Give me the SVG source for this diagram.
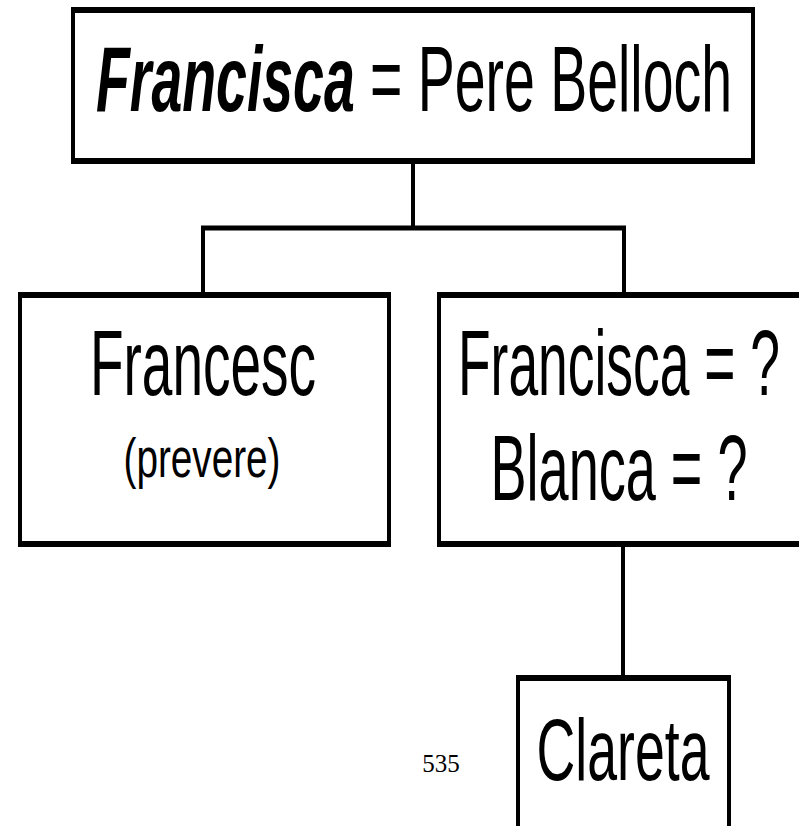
<svg xmlns="http://www.w3.org/2000/svg" width="799" height="826" viewBox="0 0 799 826">
<style>
.box{fill:#fff;stroke:#000;stroke-width:4}
.tb{stroke:#000;stroke-width:6}
.ln{fill:none;stroke:#000;stroke-width:4}
.hl{fill:none;stroke:#000;stroke-width:5}
.t{font-family:"Liberation Sans Narrow","Arial Narrow","Liberation Sans",Arial,sans-serif;fill:#000;text-anchor:middle}
.pg{font-family:"Liberation Serif","Times New Roman",serif;font-size:25px;fill:#000;text-anchor:middle}
</style>
<rect width="799" height="826" fill="#fff"/>
<g id="connectors">
<path class="ln" d="M413 161V228M203 295V228M624 295V228M623 544V678"/>
<path class="hl" d="M201 228H626"/>
</g>
<g id="n-top">
<rect class="box" x="73" y="10" width="680" height="151"/>
<path class="tb" d="M71 10H755M71 161H755"/>
<text class="t" x="414" y="111" font-size="92" textLength="636" lengthAdjust="spacingAndGlyphs"><tspan font-weight="bold" font-style="italic">Francisca</tspan> = Pere Belloch</text>
</g>
<g id="n-francesc">
<rect class="box" x="20" y="295" width="369" height="249"/>
<path class="tb" d="M18 295H391M18 544H391"/>
<text class="t" x="203" y="395" font-size="92" textLength="226" lengthAdjust="spacingAndGlyphs">Francesc</text>
<text class="t" x="202" y="477" font-size="56" textLength="157" lengthAdjust="spacingAndGlyphs">(prevere)</text>
</g>
<g id="n-francisca">
<rect class="box" x="439" y="295" width="380" height="249"/>
<path class="tb" d="M437 295H799M437 544H799"/>
<text class="t" x="619" y="395" font-size="92" textLength="322" lengthAdjust="spacingAndGlyphs">Francisca = ?</text>
<text class="t" x="619" y="500" font-size="92" textLength="257" lengthAdjust="spacingAndGlyphs">Blanca = ?</text>
</g>
<g id="n-clareta">
<rect class="box" x="518" y="678" width="211" height="160"/>
<path class="tb" d="M516 678H731"/>
<text class="t" x="623" y="780" font-size="88" textLength="173" lengthAdjust="spacingAndGlyphs">Clareta</text>
</g>
<text class="pg" x="441" y="772">535</text>
</svg>
